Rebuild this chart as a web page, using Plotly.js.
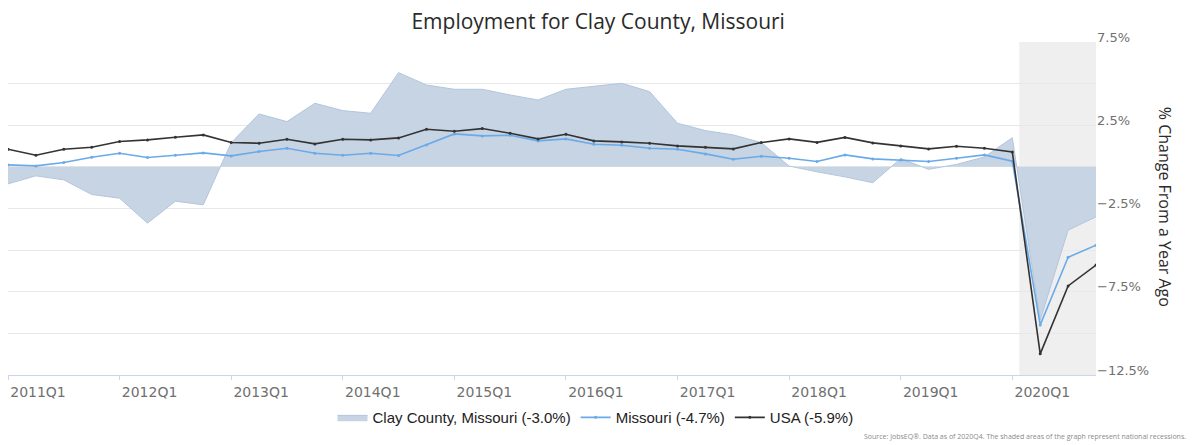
<!DOCTYPE html>
<html>
<head>
<meta charset="utf-8">
<script src="https://cdn.plot.ly/plotly-3.0.1.min.js"></script>
<style>
  html, body { margin: 0; padding: 0; background: #fff; }
  #chart { width: 1200px; height: 445px; }
</style>
</head>
<body>
<div id="chart"></div>
<script>
// ---- Data ----
const quarters = [
  '2011Q1','2011Q2','2011Q3','2011Q4',
  '2012Q1','2012Q2','2012Q3','2012Q4',
  '2013Q1','2013Q2','2013Q3','2013Q4',
  '2014Q1','2014Q2','2014Q3','2014Q4',
  '2015Q1','2015Q2','2015Q3','2015Q4',
  '2016Q1','2016Q2','2016Q3','2016Q4',
  '2017Q1','2017Q2','2017Q3','2017Q4',
  '2018Q1','2018Q2','2018Q3','2018Q4',
  '2019Q1','2019Q2','2019Q3','2019Q4',
  '2020Q1','2020Q2','2020Q3','2020Q4'
];

const clayCounty = [
  -1.02, -0.54, -0.78, -1.66,
  -1.88, -3.38, -2.06, -2.28,
   1.45,  3.18,  2.72,  3.82,
   3.38,  3.22,  5.66,  4.92,
   4.66,  4.66,  4.32,  4.02,
   4.66,  4.86,  5.02,  4.52,
   2.62,  2.18,  1.92,  1.46,
   0.05, -0.30, -0.60, -0.95,
   0.50, -0.15,  0.15,  0.60,
   1.75, -9.20, -3.80, -3.00
];

const missouri = [
  0.12, 0.06, 0.26, 0.58,
  0.82, 0.56, 0.70, 0.84,
  0.66, 0.92, 1.12, 0.82,
  0.70, 0.82, 0.68, 1.32,
  1.98, 1.86, 1.90, 1.56,
  1.68, 1.36, 1.30, 1.12,
  1.06, 0.78, 0.46, 0.64,
  0.52, 0.32, 0.72, 0.48,
  0.42, 0.32, 0.52, 0.72,
  0.34, -9.49, -5.43, -4.70
];

const usa = [
  1.06, 0.70, 1.06, 1.18,
  1.52, 1.62, 1.78, 1.92,
  1.46, 1.42, 1.66, 1.38,
  1.66, 1.62, 1.74, 2.26,
  2.14, 2.30, 2.02, 1.68,
  1.96, 1.56, 1.50, 1.42,
  1.26, 1.18, 1.08, 1.46,
  1.68, 1.47, 1.77, 1.44,
  1.25, 1.08, 1.24, 1.12,
  0.90, -11.23, -7.15, -5.90
];

const seriesNames = [
  'Clay County, Missouri (-3.0%)',
  'Missouri (-4.7%)',
  'USA (-5.9%)'
];

const xTickLabels = ['2011Q1','2012Q1','2013Q1','2014Q1','2015Q1','2016Q1','2017Q1','2018Q1','2019Q1','2020Q1'];

const yTickVals  = [-12.5, -10, -7.5, -5, -2.5, 0, 2.5, 5, 7.5];
const yTickTexts = ['\u221212.5%', '', '\u22127.5%', '', '\u22122.5%', '', '2.5%', '', '7.5%'];

// recession period (category index positions: Feb 2020 through end of data)
const recessionStart = 36.25;
const recessionEnd = 39;

// ---- Traces ----
const traces = [
  {
    x: quarters, y: clayCounty, name: seriesNames[0],
    type: 'scatter', mode: 'lines',
    fill: 'tozeroy', fillcolor: '#c6d4e4',
    line: { color: '#b4c6dc', width: 1 },
    hoverinfo: 'x+y'
  },
  {
    x: quarters, y: missouri, name: seriesNames[1],
    type: 'scatter', mode: 'lines+markers',
    line: { color: '#6aaae8', width: 1.6 },
    marker: { color: '#6aaae8', size: 3 },
    hoverinfo: 'x+y'
  },
  {
    x: quarters, y: usa, name: seriesNames[2],
    type: 'scatter', mode: 'lines+markers',
    line: { color: '#333333', width: 1.6 },
    marker: { color: '#333333', size: 3 },
    hoverinfo: 'x+y'
  }
];

const layout = {
  width: 1200, height: 445,
  margin: { l: 8, r: 104, t: 42, b: 70 },
  paper_bgcolor: '#ffffff',
  plot_bgcolor: '#ffffff',
  title: {
    text: 'Employment for Clay County, Missouri',
    font: { family: 'Open Sans, sans-serif', size: 21, color: '#2a2a2a' },
    x: 0.4985, xanchor: 'center',
    y: 0.952, yanchor: 'middle', yref: 'container'
  },
  showlegend: true,
  legend: {
    orientation: 'h',
    x: 0.54, xanchor: 'center',
    y: -0.128, yanchor: 'middle',
    font: { family: 'Liberation Sans, Arial, sans-serif', size: 15, color: '#222222' },
    itemwidth: 30,
    bgcolor: 'rgba(0,0,0,0)'
  },
  xaxis: {
    type: 'category',
    range: [0, 39],
    tickmode: 'array',
    tickvals: xTickLabels,
    ticktext: xTickLabels,
    showgrid: false,
    zeroline: false,
    showline: true,
    linecolor: '#ccd6eb',
    linewidth: 1,
    ticks: 'outside',
    ticklen: 4,
    tickcolor: '#ccd6eb',
    ticklabelshift: 30,
    tickfont: { family: 'DejaVu Sans, sans-serif', size: 14, color: '#707070' },
    fixedrange: true
  },
  yaxis: {
    side: 'right',
    range: [-12.5, 7.5],
    tickmode: 'array',
    tickvals: yTickVals,
    ticktext: yTickTexts,
    showgrid: true,
    gridcolor: '#e8e8e8',
    gridwidth: 1,
    zeroline: false,
    showline: false,
    ticks: '',
    ticklabelshift: -5,
    tickfont: { family: 'DejaVu Sans, sans-serif', size: 13, color: '#6f6f6f' },
    fixedrange: true
  },
  shapes: [
    {
      type: 'rect', xref: 'x', yref: 'paper',
      x0: recessionStart, x1: recessionEnd, y0: 0, y1: 1,
      fillcolor: '#efefef', line: { width: 0 },
      layer: 'between'
    }
  ],
  annotations: [
    {
      text: '% Change From a Year Ago',
      xref: 'paper', yref: 'paper',
      x: 1.0635, y: 0.505,
      xanchor: 'center', yanchor: 'middle',
      textangle: 90,
      showarrow: false,
      font: { family: 'Open Sans, sans-serif', size: 16, color: '#2a2a2a' }
    },
    {
      text: 'Source: JobsEQ\u00ae. Data as of 2020Q4. The shaded areas of the graph represent national recessions.',
      xref: 'paper', yref: 'paper',
      x: 1.0845, y: -0.186,
      xanchor: 'right', yanchor: 'middle',
      showarrow: false,
      font: { family: 'Open Sans, sans-serif', size: 7, color: '#8a8a8a' }
    }
  ]
};

Plotly.newPlot('chart', traces, layout, { displayModeBar: false, staticPlot: true });
</script>
</body>
</html>
